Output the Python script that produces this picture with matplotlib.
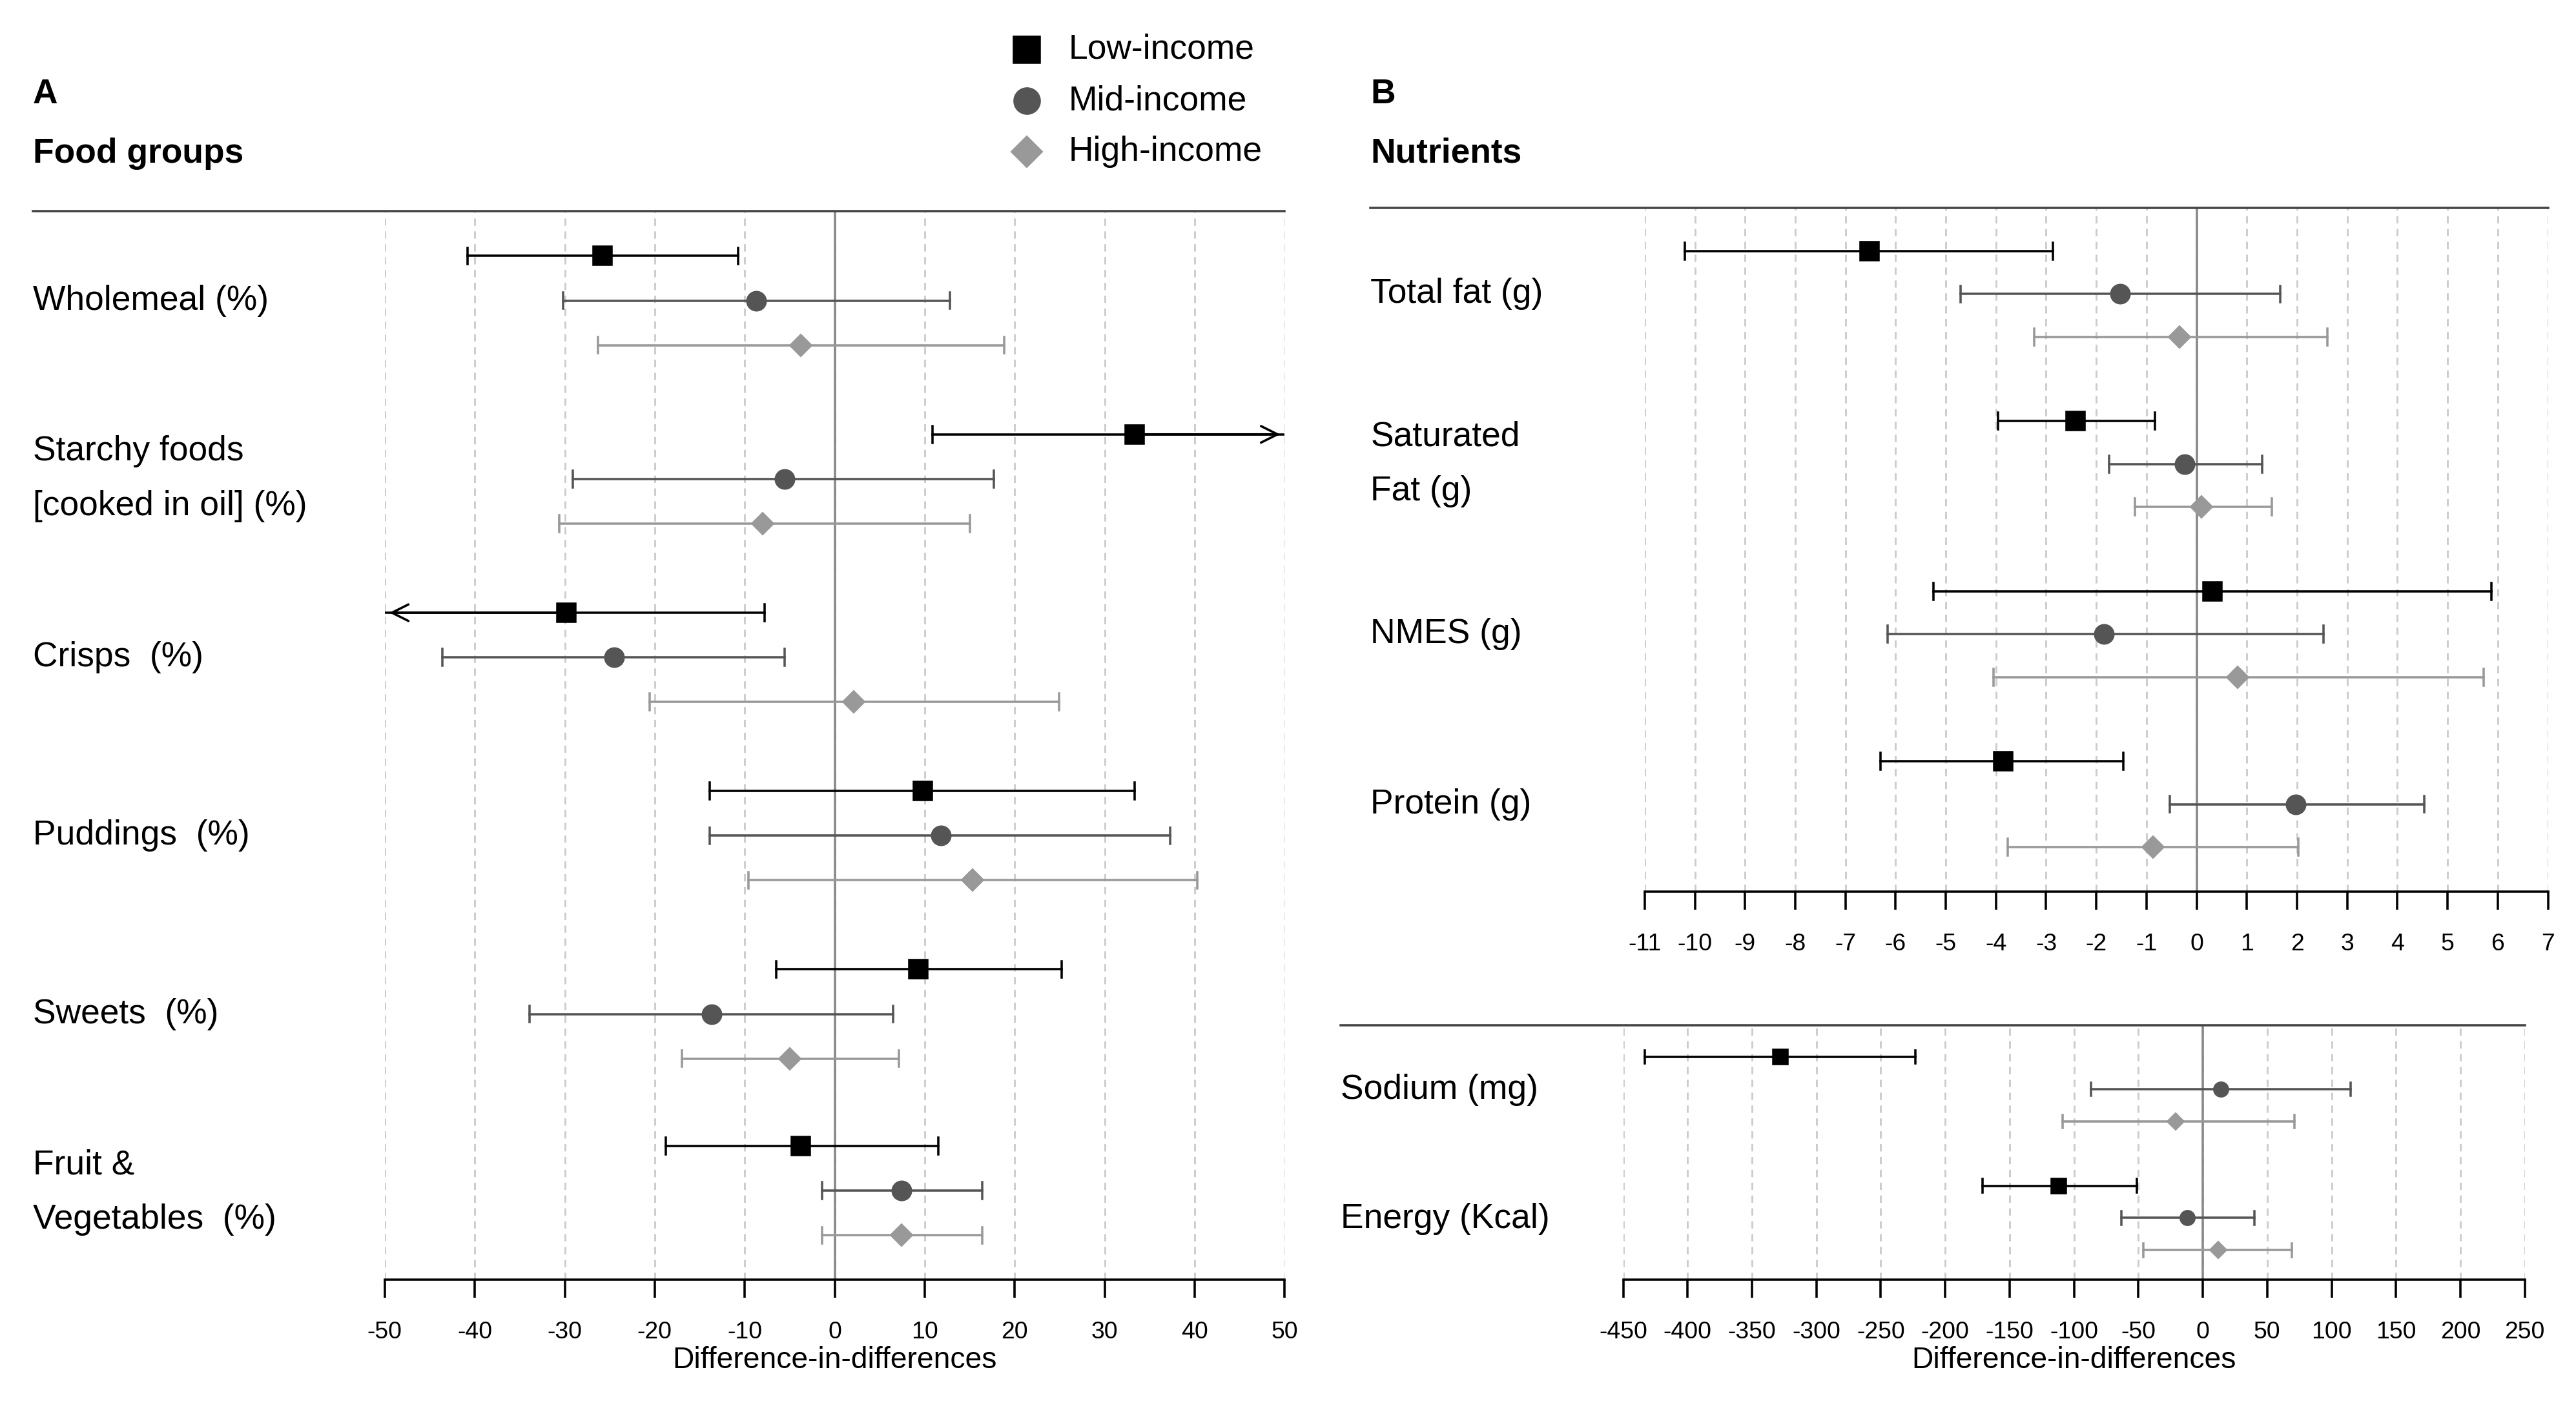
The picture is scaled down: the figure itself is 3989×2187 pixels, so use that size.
import matplotlib
matplotlib.use("Agg")
import matplotlib.pyplot as plt
import numpy as np

plt.rcParams['font.family'] = ['Liberation Sans', 'DejaVu Sans']

W, H = 1560, 855
COLORS = ["#000000", "#555555", "#999999"]
MARKERS = ["s", "o", "D"]
GROUPS = ["Low-income", "Mid-income", "High-income"]

a_labels = ["Wholemeal (%)", "Starchy foods\n[cooked in oil] (%)", "Crisps  (%)", "Puddings  (%)", "Sweets  (%)", "Fruit &\nVegetables  (%)"]
a_est = [[-25.8, -8.7, -3.8], [33.3, -5.6, -8.0], [-29.8, -24.5, 2.1], [9.8, 11.8, 15.3], [9.3, -13.7, -5.0], [-3.8, 7.4, 7.4]]
a_lo = [[-40.8, -30.2, -26.3], [10.9, -29.1, -30.6], [-55, -43.6, -20.6], [-13.9, -13.9, -9.6], [-6.5, -33.9, -17.0], [-18.8, -1.4, -1.4]]
a_hi = [[-10.7, 12.8, 18.8], [55, 17.7, 15.0], [-7.8, -5.6, 24.9], [33.3, 37.3, 40.3], [25.2, 6.5, 7.1], [11.5, 16.4, 16.4]]
a_rows = [155, 263, 371, 479, 587, 694]

b_labels = ["Total fat (g)", "Saturated\nFat (g)", "NMES (g)", "Protein (g)"]
b_est = [[-6.52, -1.52, -0.34], [-2.41, -0.24, 0.09], [0.32, -1.85, 0.81], [-3.86, 1.97, -0.87]]
b_lo = [[-10.2, -4.71, -3.24], [-3.96, -1.75, -1.23], [-5.24, -6.16, -4.05], [-6.3, -0.54, -3.76]]
b_hi = [[-2.87, 1.67, 2.6], [-0.83, 1.31, 1.5], [5.88, 2.53, 5.72], [-1.46, 4.53, 2.03]]
b_rows = [152, 255, 358, 461]

c_labels = ["Sodium (mg)", "Energy (Kcal)"]
c_est = [[-328, 14, -21], [-112, -12, 12]]
c_lo = [[-433, -87, -109], [-171, -63, -46]]
c_hi = [[-223, 115, 71], [-51, 40, 69]]
c_rows = [640, 718]

fig = plt.figure(figsize=(3989/256, 2187/256), dpi=256)
fx = lambda p: p / W
fy = lambda p: 1 - p / H

def panel(x0, x1, ytop, ybot, xlim, ticks, rows, step, est, lo, hi, msize, capsize):
    ax = fig.add_axes([fx(x0), fy(ybot), fx(x1) - fx(x0), fy(ytop) - fy(ybot)])
    ax.set_xlim(*xlim)
    ax.set_ylim(ybot, ytop)
    for t in ticks:
        ax.axvline(t, color="#cccccc", ls=(0, (4, 3)), lw=0.8, zorder=0)
    ax.axvline(0, color="#888888", lw=1.0, zorder=1)
    for i, r in enumerate(rows):
        for g in range(3):
            y = r + g * step
            e, l, h = est[i][g], lo[i][g], hi[i][g]
            c = COLORS[g]
            lc = max(l, xlim[0]); hc = min(h, xlim[1])
            ax.plot([lc, hc], [y, y], color=c, lw=1.0, zorder=2)
            if l >= xlim[0]:
                ax.plot([l, l], [y - capsize, y + capsize], color=c, lw=1.0, zorder=2)
            else:
                ax.annotate("", xy=(xlim[0], y), xytext=(e, y), arrowprops=dict(arrowstyle="->", color=c, lw=1.0, mutation_scale=18))
            if h <= xlim[1]:
                ax.plot([h, h], [y - capsize, y + capsize], color=c, lw=1.0, zorder=2)
            else:
                ax.annotate("", xy=(xlim[1], y), xytext=(e, y), arrowprops=dict(arrowstyle="->", color=c, lw=1.0, mutation_scale=18))
            ms = msize * (0.8 if g == 2 else 1.0)
            ax.plot(e, y, marker=MARKERS[g], color=c, ms=ms, zorder=3, ls="none")
    for s in ["top", "left", "right"]:
        ax.spines[s].set_visible(False)
    ax.spines["bottom"].set_linewidth(1.0)
    ax.set_yticks([])
    ax.set_xticks(ticks)
    ax.set_xticklabels([str(t) for t in ticks], fontsize=10.5)
    ax.tick_params(axis="x", length=8, width=1.0, pad=10)
    return ax

axA = panel(233, 778, 128, 775, (-50, 50), list(range(-50, 51, 10)), a_rows, 27, a_est, a_lo, a_hi, 8, 5)
axA.set_xlabel("Difference-in-differences", fontsize=13, labelpad=1)
axB = panel(996, 1543, 126, 540, (-11, 7), list(range(-11, 8)), b_rows, 26, b_est, b_lo, b_hi, 8, 5)
axC = panel(983, 1529, 621, 775, (-450, 250), list(range(-450, 251, 50)), c_rows, 19.5, c_est, c_lo, c_hi, 6, 4)
axC.set_xlabel("Difference-in-differences", fontsize=13, labelpad=1)

fig.add_artist(plt.Line2D([fx(20), fx(778)], [fy(128), fy(128)], color="#444444", lw=1.0))
fig.add_artist(plt.Line2D([fx(830), fx(1543)], [fy(126), fy(126)], color="#444444", lw=1.0))
fig.add_artist(plt.Line2D([fx(812), fx(1529)], [fy(621), fy(621)], color="#444444", lw=1.0))

fs = 15
fig.text(fx(20), fy(57), "A", fontsize=fs, fontweight="bold", va="center")
fig.text(fx(20), fy(93), "Food groups", fontsize=fs, fontweight="bold", va="center")
fig.text(fx(830), fy(57), "B", fontsize=fs, fontweight="bold", va="center")
fig.text(fx(830), fy(93), "Nutrients", fontsize=fs, fontweight="bold", va="center")

for lab, y in zip(a_labels, [182, 290, 398, 506, 614, 722]):
    fig.text(fx(20), fy(y), lab, fontsize=fs, va="center", linespacing=1.9)
for lab, y in zip(b_labels, [178, 281, 384, 487]):
    fig.text(fx(830), fy(y), lab, fontsize=fs, va="center", linespacing=1.9)
for lab, y in zip(c_labels, [660, 738]):
    fig.text(fx(812), fy(y), lab, fontsize=fs, va="center")

for g, (y, name) in enumerate(zip([30, 61, 92], GROUPS)):
    fig.add_artist(plt.Line2D([fx(622)], [fy(y)], marker=MARKERS[g], color=COLORS[g], ms=11 if g < 2 else 9, ls="none"))
    fig.text(fx(647), fy(y), name, fontsize=fs, va="center")

fig.savefig("out.png", dpi=256)
